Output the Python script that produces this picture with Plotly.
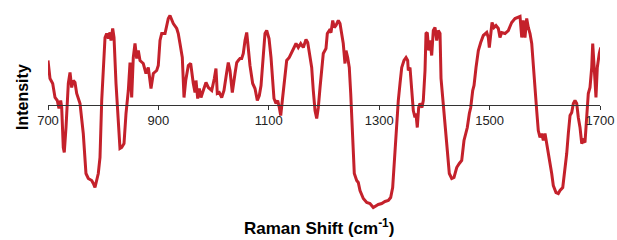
import plotly.graph_objects as go

# Raman shift (cm-1) and relative intensity
raman_shift = [
    700, 703.6, 708.5, 712.7, 716.8, 719.9, 723, 724.8, 727.7, 729.5, 732.6, 736.8, 739.9, 742.9,
    745.8, 748.9, 752, 758, 763.9, 768.8, 773, 779.2, 782.1, 785.1, 791.1, 794.2, 797.3, 800.2,
    803.3, 806.3, 809.2, 812.3, 814.1, 817.2, 819.6, 823.2, 827.4, 830.4, 833.5, 837.7, 841.3,
    845.5, 848.6, 851.6, 854.5, 857.6, 860.7, 863.6, 866.7, 872.6, 877.5, 881.7, 886.6, 890.8,
    896.9, 899.8, 902.9, 906, 912, 917.9, 921, 924.1, 927, 933.2, 936, 939.1,
    943.3, 946.4, 949.5, 954.2, 958.5, 963.2, 966.3, 968.1, 971.2, 974.1, 977.2, 981.3, 986.2,
    990.4, 996.6, 1001.3, 1004.3, 1006.7, 1010.3, 1014.7, 1018.8, 1023.7, 1026.6, 1029.7, 1033.9,
    1038.8, 1041.9, 1044.7, 1047.8, 1050.9, 1053.8, 1056.9, 1060, 1062.9, 1065.9, 1070.8, 1075,
    1079.2, 1082.8, 1085.9, 1090, 1093.1, 1096.2, 1100.4, 1104, 1107.1, 1109.4, 1113, 1116.1,
    1119, 1121.6, 1124.5, 1127.6, 1132.4, 1137.1, 1141.5, 1145.7, 1149.3, 1153.4, 1157.8, 1162.5,
    1167.4, 1170.5, 1174.6, 1177.7, 1180.6, 1183.7, 1186.8, 1189.7, 1192.8, 1198.7, 1203.6, 1206,
    1209.6, 1212.7, 1215.8, 1218.7, 1221.7, 1225.9, 1229, 1232.1, 1234.9, 1238, 1239.9, 1242.9,
    1245.8, 1248.4, 1252, 1254.9, 1259.2, 1262.1, 1265.2, 1271.2, 1277.4, 1283.3, 1289.3, 1298.4,
    1304.5, 1310.5, 1316.5, 1320.8, 1324.4, 1327.3, 1331.7, 1334.6, 1337.7, 1340.8, 1344.9,
    1348.6, 1351.6, 1352.7, 1355.8, 1358.9, 1361.8, 1364.8, 1366.6, 1369, 1371.5, 1373.9, 1377.5,
    1379.9, 1383, 1384.8, 1387.1, 1389.7, 1392, 1395.1, 1398, 1401.1, 1404.2, 1407.1, 1410.2,
    1412, 1415.1, 1419.2, 1423.4, 1427, 1431.4, 1435.5, 1440.4, 1445.1, 1449.5, 1453.6, 1457.3,
    1459.6, 1463.3, 1465.8, 1469.4, 1471.8, 1475.4, 1479.6, 1483.9, 1488.6, 1494.8, 1497.7,
    1499.5, 1502, 1504.4, 1508, 1511.6, 1515.8, 1518.8, 1521.9, 1527.9, 1533.9, 1540, 1546, 1552,
    1555.1, 1558.2, 1561, 1564.1, 1567.2, 1570.1, 1573.2, 1576.3, 1579.2, 1582.3, 1585.3, 1588.2,
    1591.3, 1594.4, 1597.3, 1600.4, 1603.4, 1606.3, 1609.4, 1612.5, 1615.4, 1620.3, 1624.5,
    1627.6, 1632.5, 1636.6, 1639.7, 1642.6, 1645.7, 1648.8, 1651.7, 1654.7, 1657.8, 1660.7,
    1663.8, 1666.9, 1669.8, 1672.8, 1675.9, 1678.8, 1681.9, 1685, 1686.8, 1689.1, 1690.9, 1692.7,
    1695.1, 1698.7, 1701.2,
]
intensity = [
    44, 26, 21, 7, 4, -4, 4, -3, -43, -48, -23, 21, 32, 17,
    24, 22, 11, 1, -29, -69, -74, -76, -79, -83, -69, -53, 4, 37,
    67, 71, 66, 72, 64, 76, 67, 21, -23, -44, -43, -39, -9,
    14, 42, 7, 47, 61, 46, 54, 44, 41, 31, 37, 16, 31,
    34, 39, 64, 71, 71, 86, 89, 84, 81, 76, 71, 61,
    47, 7, 24, 39, 41, 21, 12, 24, 6, 16, 7, 14, 22,
    17, 14, 26, 36, 11, 12, 7, 14, 32, 42, 34, 12,
    31, 42, 44, 46, 46, 51, 64, 72, 56, 39, 21, 16,
    4, 9, 19, 47, 71, 74, 66, 47, 24, 6, 1, 4,
    -3, -11, 4, 21, 44, 47, 52, 57, 61, 57, 61, 57,
    65, 62, 47, 37, 14, -6, -14, -3, 17, 51, 56, 71,
    74, 72, 84, 77, 79, 84, 81, 71, 61, 41, 54, 47,
    37, 11, -36, -69, -76, -78, -86, -94, -98, -99, -103, -100,
    -99, -97, -96, -93, -83, -56, -23, 4, 21, 37, 44,
    47, 44, 34, 37, 17, -6, -13, -9, -23, -3, 1, -3,
    4, 34, 71, 72, 54, 64, 49, 74, 77, 64, 74, 71,
    26, 4, -19, -46, -69, -74, -73, -63, -59, -56, -36, -26,
    -23, -9, -3, 14, 19, 37, 54, 62, 69, 72, 67,
    57, 74, 82, 77, 79, 76, 67, 72, 71, 74, 82, 86, 87,
    88, 67, 84, 67, 86, 77, 71, 61, 37, 11, -6, -26,
    -33, -29, -36, -29, -39, -46, -56, -69, -81, -88, -89,
    -86, -83, -66, -49, -29, -11, -8, 1, 4, 1, -13,
    -23, -39, -36, -38, -6, 11, 17, 37, 61, 44, 24, 7,
    37, 51, 57,
]
x_ticks = [700, 900, 1100, 1300, 1500, 1700]
x_title = "Raman Shift (cm<sup>-1</sup>)"
y_title = "Intensity"

W, H = 617, 240
ML, MR, MT, MB = 48, 17, 9, 26
Y_RANGE = [-109.5, 95.5]
PW, PH = W - ML - MR, H - MT - MB


def px_x(p):
    return (p - ML) / PW


def px_y(p):
    return (H - MB - p) / PH


fig = go.Figure()
fig.add_trace(go.Scatter(
    x=raman_shift, y=intensity, mode="lines",
    line=dict(color="#C4212B", width=3),
    showlegend=False, hoverinfo="skip",
))

zero_pos = (0 - Y_RANGE[0]) / (Y_RANGE[1] - Y_RANGE[0])

fig.update_layout(
    width=W, height=H,
    margin=dict(l=ML, r=MR, t=MT, b=MB),
    paper_bgcolor="white", plot_bgcolor="white",
    font=dict(family="Liberation Sans, Arial, sans-serif", color="black", size=13),
    xaxis=dict(
        range=[700, 1700], tickvals=x_ticks, ticktext=[str(v) for v in x_ticks],
        showgrid=False, zeroline=False, showline=True, linecolor="#333333", linewidth=1,
        ticks="outside", ticklen=4, tickcolor="#333333",
        anchor="free", position=zero_pos, automargin=False,
        tickfont=dict(size=13, color="#222222"),
    ),
    yaxis=dict(
        range=Y_RANGE, visible=False, showgrid=False, zeroline=False, automargin=False,
    ),
    annotations=[
        dict(text="<b>" + y_title + "</b>", xref="paper", yref="paper",
             x=px_x(22), y=px_y(97), xanchor="center", yanchor="middle",
             textangle=-90, showarrow=False, font=dict(size=16, color="black")),
        dict(text="<b>" + x_title + "</b>", xref="paper", yref="paper",
             x=px_x(319), y=px_y(227), xanchor="center", yanchor="middle",
             showarrow=False, font=dict(size=17, color="black")),
    ],
)

fig.write_html(
    "out.html",
    config={"displayModeBar": False},
    post_script="document.body.style.margin='0';document.body.style.overflow='hidden';",
)
